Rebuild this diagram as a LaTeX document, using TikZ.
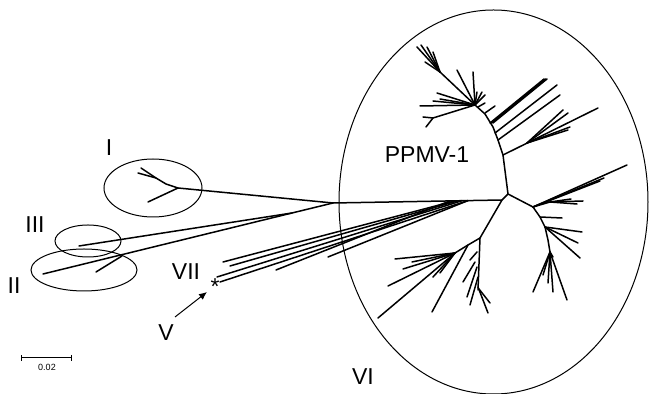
\documentclass[tikz,border=0pt]{standalone}
\usepackage{fontspec}
\setmainfont{Liberation Sans}
\usetikzlibrary{arrows.meta}

\begin{document}
\begin{tikzpicture}[
  x=0.5pt, y=-0.5pt,
  % --- styles ------------------------------------------------------------
  branch/.style={line width=0.75pt, line cap=round, line join=round},
  clade/.style={line width=0.5pt},
  lbl/.style={font=\fontsize{11.5}{13}\selectfont, inner sep=0pt},
  pointer/.style={-{Latex[length=4pt, width=3.5pt]}, line width=0.5pt},
  scalebar/.style={{Bar[width=3pt]}-{Bar[width=3pt]}, line width=0.5pt}
]
\useasboundingbox (0,0) rectangle (649,394);

% --------------------- internal junctions -------------------------------
\coordinate (A)  at (333,203);
\coordinate (B)  at (292,213);
\coordinate (G)  at (502,200);
\coordinate (C)  at (508,194);
\coordinate (D)  at (503,155);
\coordinate (E)  at (480,238);
\coordinate (F)  at (533,207);
\coordinate (N1) at (475,105);
\coordinate (N2) at (440,72);
\coordinate (nI) at (178,188);

% --------------------- clades I, II, III --------------------------------
\draw[branch] (A) -- (nI) -- (148,202);
\draw[branch] (nI) -- (166,184) -- (156,178) -- (141,168);
\draw[branch] (156,178) -- (138,173);
\draw[branch] (A) -- (B) -- (79,246);
\draw[branch] (B) -- (43,274);
\draw[branch] (96,272) -- (122,256);

% --------------------- backbone -----------------------------------------
\draw[branch] (A) -- (G) -- (C) -- (D);
\draw[branch] (G) -- (E);
\draw[branch] (C) -- (F);

% VII and V lines joining the backbone
\foreach \sx/\sy/\ex in {223/262/455, 230/266/458, 217/277/462,
                         220/282/468, 276/270/450, 328/257/468}
  \draw[branch] (\sx,\sy) -- (\ex,{203-3*(\ex-333)/169});

% --------------------- PPMV-1, upper part -------------------------------
\draw[branch] (D) -- (498,140) -- (493,127) -- (485,114) -- (N1);
\draw[branch] (D) -- (598,108);
\draw[branch] (527,143) -- (563,110);
\draw[branch] (527,143) -- (568,113);
\draw[branch] (527,143) -- (570,127);
\draw[branch] (527,143) -- (568,130);
\draw[branch] (498,140) -- (560,95);
\draw[branch] (495,133) -- (557,85);
\foreach \dx in {0,1.5,3}
  \draw[branch] (490+\dx,123) -- (544+\dx,79);
\draw[branch] (485,113) -- (495,106);
\draw[branch] (478,107) -- (485,103);

\draw[branch] (N1) -- (N2);
\foreach \tx/\ty in {417/47, 421/45, 427/47, 433/52, 425/62}
  \draw[branch] (N2) -- (\tx,\ty);
\foreach \tx/\ty in {457/70, 473/72, 477/92, 482/92, 485/95,
                     420/106, 437/93, 440/99, 433/101}
  \draw[branch] (N1) -- (\tx,\ty);
\draw[branch] (N1) -- (433,118) -- (423,117);
\draw[branch] (433,118) -- (426,127);

% --------------------- PPMV-1, lower right ------------------------------
\foreach \tx/\ty in {627/165, 604/178, 600/181}
  \draw[branch] (F) -- (\tx,\ty);
\draw[branch] (F) -- (550,202);
\foreach \tx/\ty in {583/201, 577/204, 571/199}
  \draw[branch] (550,202) -- (\tx,\ty);
\draw[branch] (F) -- (540,217) -- (545,227) -- (548,240) -- (550,252);
\draw[branch] (540,217) -- (562,218);
\foreach \tx/\ty in {582/232, 578/243, 580/258}
  \draw[branch] (545,227) -- (\tx,\ty);
\foreach \tx/\ty in {533/292, 543/275, 548/283, 553/292, 567/300, 553/257}
  \draw[branch] (550,252) -- (\tx,\ty);

% --------------------- PPMV-1, lower left -------------------------------
\draw[branch] (E) -- (478,290);
\draw[branch] (477,252) -- (470,260);
\draw[branch] (475,262) -- (463,282);
\draw[branch] (477,267) -- (467,297);
\draw[branch] (478,277) -- (470,305);
\draw[branch] (478,287) -- (488,313);
\draw[branch] (479,289) -- (490,303);
\draw[branch] (E) -- (468,245) -- (432,312);
\draw[branch] (468,245) -- (455,253) -- (378,318);
\foreach \tx/\ty in {395/259, 403/269, 388/286, 412/262, 433/277, 440/273}
  \draw[branch] (455,253) -- (\tx,\ty);

% --------------------- clade outlines -----------------------------------
\draw[clade] (153,188) ellipse [x radius=49, y radius=29];
\draw[clade] (88,241) ellipse [x radius=33, y radius=16];
\draw[clade] (84,270) ellipse [x radius=53, y radius=21];
\draw[clade] (493.5,202) ellipse [x radius=154.5, y radius=192];

% --------------------- labels -------------------------------------------
\node[lbl] (labI)   at (109,148) {I};
\node[lbl] (labIII) at (35,225)  {III};
\node[lbl] (labII)  at (14,286)  {II};
\node[lbl] (labVII) at (186,272) {VII};
\node[lbl] (labV)   at (166,333) {V};
\node[lbl] (labPP)  at (427,155) {PPMV-1};
\node[lbl] (labVI)  at (363,377) {VI};
\node[lbl] (ast)    at (215,287) {*};

\coordinate (arrS) at (175,317);
\coordinate (arrE) at (207,292);
\draw[pointer] (arrS) -- (arrE);

% --------------------- scale bar ----------------------------------------
\coordinate (sbL) at (21,358);
\coordinate (sbR) at (72,358);
\draw[scalebar] (sbL) -- (sbR);
\node[font=\fontsize{4.5}{5}\selectfont, inner sep=0pt] (sbT) at (47,367) {0.02};

\end{tikzpicture}
\end{document}
